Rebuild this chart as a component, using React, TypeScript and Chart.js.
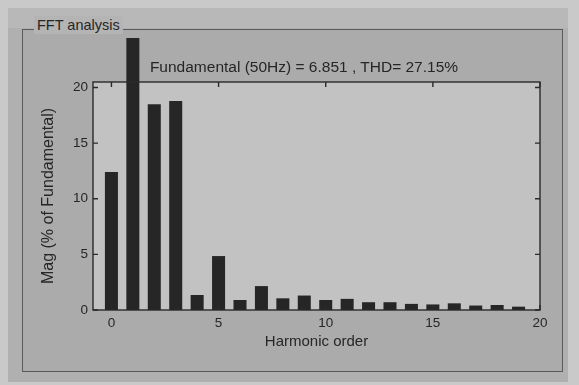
import React, { useEffect, useRef } from "react";
import { Chart, registerables } from "chart.js";

Chart.register(...registerables);

const harmonicOrders = [0, 1, 2, 3, 4, 5, 6, 7, 8, 9, 10, 11, 12, 13, 14, 15, 16, 17, 18, 19];
const magnitudes = [12.4, 100, 18.5, 18.8, 1.35, 4.85, 0.9, 2.15, 1.05, 1.3, 0.9, 1.0, 0.7, 0.7, 0.55, 0.5, 0.6, 0.4, 0.45, 0.3];
const xTickValues = [0, 5, 10, 15, 20];
const yTickValues = [0, 5, 10, 15, 20];
const titleText = "Fundamental (50Hz) = 6.851 , THD= 27.15%";
const xAxisTitle = "Harmonic order";
const yAxisTitle = "Mag (% of Fundamental)";
const panelLabel = "FFT analysis";

const FONT = "'Liberation Sans', Arial, sans-serif";
const INK = "#262626";

const boxPlugin = {
  id: "matlabBox",
  beforeDatasetsDraw(chart: any) {
    const { ctx, chartArea: a } = chart;
    ctx.save();
    ctx.fillStyle = "#c2c2c2";
    ctx.fillRect(a.left, a.top, a.right - a.left, a.bottom - a.top);
    ctx.restore();
  },
  afterDatasetsDraw(chart: any) {
    const { ctx, chartArea: a, scales } = chart;
    ctx.save();
    ctx.strokeStyle = "#2a2a2a";
    ctx.lineWidth = 1.4;
    ctx.strokeRect(a.left, a.top, a.right - a.left, a.bottom - a.top);
    const tl = 5;
    ctx.beginPath();
    xTickValues.forEach((v) => {
      const px = scales.x.getPixelForValue(v);
      ctx.moveTo(px, a.bottom);
      ctx.lineTo(px, a.bottom - tl);
      ctx.moveTo(px, a.top);
      ctx.lineTo(px, a.top + tl);
    });
    yTickValues.forEach((v) => {
      const py = scales.y.getPixelForValue(v);
      ctx.moveTo(a.left, py);
      ctx.lineTo(a.left + tl, py);
      ctx.moveTo(a.right, py);
      ctx.lineTo(a.right - tl, py);
    });
    ctx.stroke();
    ctx.restore();
  },
};

export default function App() {
  const canvasRef = useRef<HTMLCanvasElement | null>(null);

  useEffect(() => {
    document.body.style.margin = "0";
    const canvas = canvasRef.current;
    if (!canvas) return;
    const chart = new Chart(canvas, {
      type: "bar",
      data: {
        datasets: [
          {
            data: harmonicOrders.map((h, i) => ({ x: h, y: magnitudes[i] })),
            backgroundColor: INK,
            borderWidth: 0,
            barPercentage: 0.76,
            categoryPercentage: 0.8,
            clip: { left: 0, top: 44, right: 0, bottom: 0 } as any,
          },
        ],
      },
      options: {
        animation: false,
        responsive: false,
        maintainAspectRatio: false,
        layout: { padding: { left: 0, top: 82, right: 39, bottom: 0 } },
        plugins: {
          legend: { display: false },
          tooltip: { enabled: false },
          title: { display: false },
        },
        scales: {
          x: {
            type: "linear",
            min: -0.86,
            max: 20,
            offset: false,
            grid: { display: false, drawTicks: false },
            border: { display: false },
            afterBuildTicks: (s: any) => {
              s.ticks = xTickValues.map((v) => ({ value: v }));
            },
            afterFit: (s: any) => {
              s.height = 385 - 310;
            },
            ticks: {
              padding: 5,
              color: INK,
              font: { family: FONT, size: 13.5 },
              maxRotation: 0,
              autoSkip: false,
            },
            title: {
              display: true,
              text: xAxisTitle,
              color: INK,
              font: { family: FONT, size: 15 },
              padding: { top: 0, bottom: 34 },
            },
          },
          y: {
            type: "linear",
            min: 0,
            max: 20.5,
            grid: { display: false, drawTicks: false },
            border: { display: false },
            afterBuildTicks: (s: any) => {
              s.ticks = yTickValues.map((v) => ({ value: v }));
            },
            afterFit: (s: any) => {
              s.width = 93;
            },
            ticks: {
              padding: 5,
              color: INK,
              font: { family: FONT, size: 13.5 },
            },
            title: {
              display: true,
              text: yAxisTitle,
              color: INK,
              font: { family: FONT, size: 16 },
              padding: { top: 38.5, bottom: 0 },
            },
          },
        },
      },
      plugins: [boxPlugin],
    });
    return () => chart.destroy();
  }, []);

  return (
    <div
      style={{
        position: "absolute",
        left: 0,
        top: 0,
        width: 579,
        height: 385,
        overflow: "hidden",
        background: "#c9c9c9",
        fontFamily: FONT,
      }}
    >
      <div
        style={{
          position: "absolute",
          left: 8,
          top: 8,
          width: 560,
          height: 374,
          background: "#b0b0b0",
        }}
      />
      <div
        style={{
          position: "absolute",
          left: 8,
          top: 8,
          width: 560,
          height: 20,
          background: "#b8b8b8",
        }}
      />
      <div
        style={{
          position: "absolute",
          left: 22,
          top: 29,
          width: 541,
          height: 343,
          border: "1px solid #5a5a5a",
          boxSizing: "border-box",
          background: "#ababab",
        }}
      />
      <div
        style={{
          position: "absolute",
          left: 34,
          top: 16,
          padding: "0 3px",
          background: "#b4b4b4",
          color: INK,
          fontSize: 14.5,
          lineHeight: "18px",
          whiteSpace: "nowrap",
        }}
      >
        {panelLabel}
      </div>
      <canvas
        ref={canvasRef}
        width={579}
        height={385}
        style={{ position: "absolute", left: 0, top: 0, width: 579, height: 385 }}
      />
      <div
        style={{
          position: "absolute",
          left: 0,
          width: 608,
          top: 57,
          textAlign: "center",
          color: INK,
          fontSize: 15.5,
          lineHeight: "19px",
          whiteSpace: "nowrap",
        }}
      >
        {titleText}
      </div>
    </div>
  );
}
